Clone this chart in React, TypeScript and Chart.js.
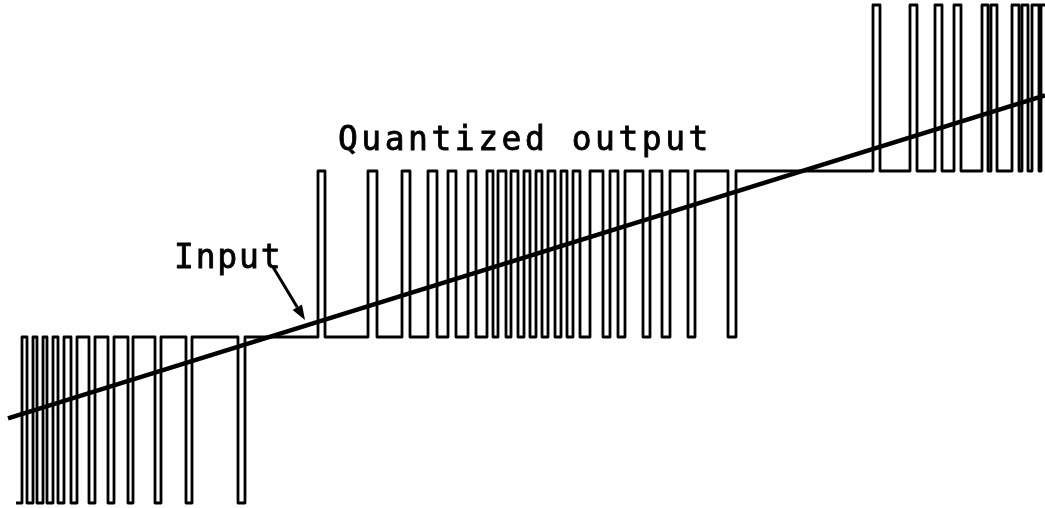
import React, { useEffect, useRef } from "react";
import { Chart, registerables } from "chart.js";

Chart.register(...registerables);

// Input ramp: end points as (time, level)
const inputTimes = [8, 1045];
const inputLevels = [0.51, 2.455];

// Output is split into bands; in each band it rests at a base level and
// pulses to a neighbouring level during the listed [from, to] spans.
const bandStarts = [16, 245, 736];
const bandEnd = 1045;
const bandBaseLevels = [1, 1, 2];
const bandPulseLevels = [0, 2, 3];

const band0Pulses: [number, number][] = [
  [16, 22], [27, 33], [37, 43], [47, 53], [58, 64], [71, 77], [89, 95],
  [108, 114], [128, 133], [155, 161], [186, 192], [238, 245],
];
const band1Pulses: [number, number][] = [
  [318, 325], [368, 377], [402, 410], [428, 437], [448, 456], [468, 476],
  [487, 493], [498, 506], [511, 518], [524, 530], [536, 542], [548, 555],
  [561, 567], [573, 580], [590, 603], [610, 618], [625, 643], [650, 662],
  [670, 688], [695, 728],
];
const band2Pulses: [number, number][] = [
  [873, 880], [910, 917], [935, 942], [954, 961], [982, 988], [991, 997],
  [1012, 1019], [1022, 1028], [1032, 1039], [1041, 1045],
];

const titleText = "Quantized output";
const inputText = "Input";

// Each point holds the level that lasts until the next point's time.
function buildOutputSteps() {
  const pulses = [band0Pulses, band1Pulses, band2Pulses];
  const pts: { x: number; y: number }[] = [];
  let level = bandBaseLevels[0];
  bandStarts.forEach((start, i) => {
    const end = i + 1 < bandStarts.length ? bandStarts[i + 1] : bandEnd;
    let t = start;
    for (const [a, b] of pulses[i]) {
      if (a > t) pts.push({ x: t, y: bandBaseLevels[i] });
      pts.push({ x: a, y: bandPulseLevels[i] });
      level = bandPulseLevels[i];
      t = b;
    }
    if (t < end) {
      pts.push({ x: t, y: bandBaseLevels[i] });
      level = bandBaseLevels[i];
    }
  });
  pts.push({ x: bandEnd, y: level });
  return pts;
}

const labelsPlugin = {
  id: "labels",
  afterDatasetsDraw(chart: any) {
    const { ctx, scales } = chart;
    const px = (v: number) => scales.x.getPixelForValue(v);
    const py = (v: number) => scales.y.getPixelForValue(v);
    ctx.save();
    ctx.fillStyle = "#000";
    ctx.strokeStyle = "#000";
    ctx.font = '33px "DejaVu Sans Mono"';
    ctx.textBaseline = "alphabetic";
    ctx.textAlign = "left";
    ctx.lineWidth = 0.8;

    (ctx as any).letterSpacing = "3.5px";
    ctx.fillText(titleText, px(338), py(2.126));
    ctx.strokeText(titleText, px(338), py(2.126));

    (ctx as any).letterSpacing = "1.8px";
    ctx.fillText(inputText, px(174), py(1.416));
    ctx.strokeText(inputText, px(174), py(1.416));
    (ctx as any).letterSpacing = "0px";

    // arrow from the label to the ramp
    const x0 = px(273), y0 = py(1.422);
    const x1 = px(305), y1 = py(1.102);
    const ang = Math.atan2(y1 - y0, x1 - x0);
    const head = 15;
    const half = 5.5;
    const bx = x1 - head * Math.cos(ang);
    const by = y1 - head * Math.sin(ang);
    ctx.lineWidth = 3;
    ctx.beginPath();
    ctx.moveTo(x0, y0);
    ctx.lineTo(bx, by);
    ctx.stroke();
    ctx.beginPath();
    ctx.moveTo(x1, y1);
    ctx.lineTo(bx + half * Math.sin(ang), by - half * Math.cos(ang));
    ctx.lineTo(bx - half * Math.sin(ang), by + half * Math.cos(ang));
    ctx.closePath();
    ctx.fill();
    ctx.restore();
  },
};

export default function App() {
  const ref = useRef<HTMLCanvasElement>(null);

  useEffect(() => {
    if (!ref.current) return;
    const chart = new Chart(ref.current, {
      type: "line",
      data: {
        datasets: [
          {
            label: "Quantized output",
            data: buildOutputSteps(),
            stepped: "before",
            borderColor: "#000",
            borderWidth: 2.8,
            borderJoinStyle: "round",
            pointRadius: 0,
            fill: false,
          },
          {
            label: "Input",
            data: inputTimes.map((t, i) => ({ x: t, y: inputLevels[i] })),
            borderColor: "#000",
            borderWidth: 4.5,
            pointRadius: 0,
            tension: 0,
            fill: false,
          },
        ],
      },
      options: {
        animation: false,
        responsive: false,
        devicePixelRatio: 1,
        events: [],
        layout: { padding: 0 },
        plugins: {
          legend: { display: false },
          tooltip: { enabled: false },
          title: { display: false },
        },
        scales: {
          x: { type: "linear", min: 0, max: 1045, display: false },
          y: { type: "linear", min: -0.03, max: 3.03, display: false },
        },
      },
      plugins: [labelsPlugin],
    });
    return () => chart.destroy();
  }, []);

  return (
    <div style={{ position: "fixed", left: 0, top: 0, width: 1045, height: 508, background: "#fff" }}>
      <canvas ref={ref} width={1045} height={508} style={{ display: "block" }} />
    </div>
  );
}
